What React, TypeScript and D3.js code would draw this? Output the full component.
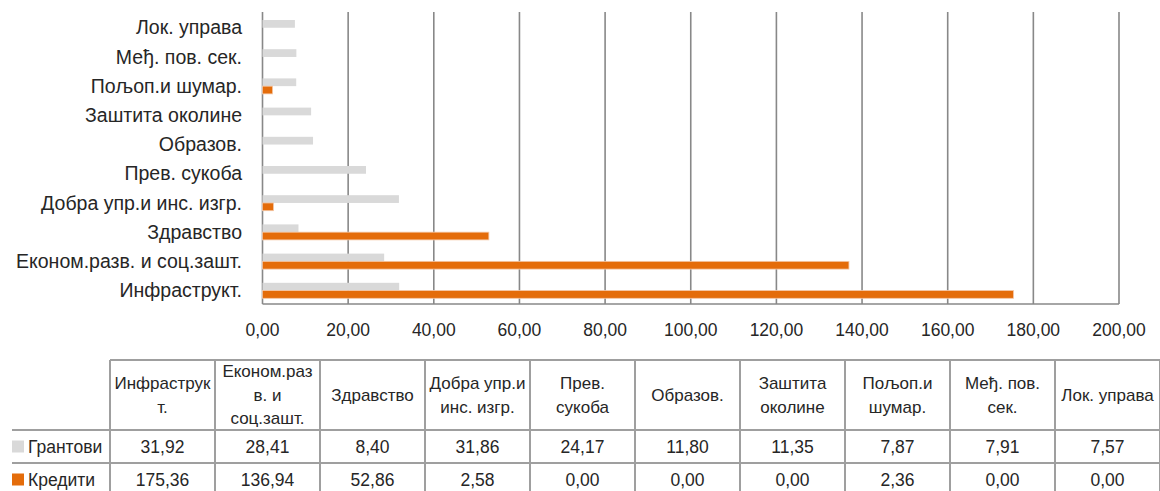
import React from 'react';
import * as d3 from 'd3';

// categories in table order (first one is drawn at the bottom of the chart)
const categories = [
  'Инфраструкт.',
  'Економ.разв. и соц.зашт.',
  'Здравство',
  'Добра упр.и инс. изгр.',
  'Прев. сукоба',
  'Образов.',
  'Заштита околине',
  'Пољоп.и шумар.',
  'Међ. пов. сек.',
  'Лок. управа',
];

// wrapped header text as it appears in the data table
const headerLines = [
  ['Инфраструк', 'т.'],
  ['Економ.раз', 'в. и', 'соц.зашт.'],
  ['Здравство'],
  ['Добра упр.и', 'инс. изгр.'],
  ['Прев.', 'сукоба'],
  ['Образов.'],
  ['Заштита', 'околине'],
  ['Пољоп.и', 'шумар.'],
  ['Међ. пов.', 'сек.'],
  ['Лок. управа'],
];

const seriesNames = ['Грантови', 'Кредити'];
const grants = [31.92, 28.41, 8.4, 31.86, 24.17, 11.8, 11.35, 7.87, 7.91, 7.57];
const credits = [175.36, 136.94, 52.86, 2.58, 0, 0, 0, 2.36, 0, 0];
const xTicks = [0, 20, 40, 60, 80, 100, 120, 140, 160, 180, 200];

const colors = ['#d9d9d9', '#e46c0a'];
const gridColor = '#888888';
const tableColor = '#9f9f9f';
const font = '"Liberation Sans", Arial, sans-serif';

const W = 1160;
const H = 491;

const locale = d3.formatLocale({ decimal: ',', thousands: '.', grouping: [3], currency: ['', ''] });
const fmt = locale.format('.2f');

export default function App() {
  const plot = { left: 262.5, right: 1119, top: 12, bottom: 304 };

  const x = d3.scaleLinear().domain([0, 200]).range([plot.left, plot.right]);
  const y = d3.scaleBand<string>().domain(categories).range([plot.bottom, plot.top]);
  const bw = y.bandwidth();
  const sub = d3.scaleBand<number>().domain([0, 1]).range([8, 23.5]);

  const series = [grants, credits];

  // table geometry
  const cols = d3.scaleBand<string>().domain(categories).range([110, 1160]);
  const tTop = 360;
  const rowLines = [430, 463, 496];

  return (
    <svg width={W} height={H} style={{ position: 'absolute', left: 0, top: 0, background: '#fff' }} fontFamily={font}>
      {/* grid */}
      {xTicks.map(t => (
        <line key={'g' + t} x1={x(t)} x2={x(t)} y1={plot.top} y2={plot.bottom} stroke={gridColor} strokeWidth={1.6} />
      ))}
      <line x1={plot.left} x2={plot.right} y1={plot.bottom} y2={plot.bottom} stroke={gridColor} strokeWidth={1.6} />

      {/* bars */}
      {series.map((vals, si) =>
        categories.map((c, i) => (
          vals[i] > 0 ? (
            <rect
              key={si + '-' + c}
              x={x(0)}
              y={(y(c) as number) + (sub(si) as number)}
              width={x(vals[i]) - x(0)}
              height={sub.bandwidth()}
              fill={colors[si]}
              stroke={si === 1 ? '#f4c8a8' : 'none'}
              strokeWidth={si === 1 ? 0.8 : 0}
            />
          ) : null
        ))
      )}

      {/* category labels */}
      {categories.map(c => (
        <text key={'l' + c} x={242} y={(y(c) as number) + bw / 2 + 1} dy="0.35em" textAnchor="end" fontSize={19.5} fill="#262626">
          {c}
        </text>
      ))}

      {/* x tick labels */}
      {xTicks.map(t => (
        <text key={'t' + t} x={x(t)} y={330} dy="0.35em" textAnchor="middle" fontSize={17.5} fill="#262626">
          {fmt(t)}
        </text>
      ))}

      {/* data table */}
      <line x1={110} x2={W} y1={tTop} y2={tTop} stroke={tableColor} strokeWidth={2} />
      {rowLines.map(r => (
        <line key={'r' + r} x1={12} x2={W} y1={r} y2={r} stroke={tableColor} strokeWidth={2} />
      ))}
      {categories.map(c => (
        <line key={'v' + c} x1={cols(c)} x2={cols(c)} y1={tTop} y2={H} stroke={tableColor} strokeWidth={2} />
      ))}
      <line x1={1160} x2={1160} y1={tTop} y2={H} stroke={tableColor} strokeWidth={2} />

      {categories.map((c, i) => {
        const cx = (cols(c) as number) + cols.bandwidth() / 2;
        const lines = headerLines[i];
        const lh = 23.5;
        const mid = (tTop + rowLines[0]) / 2;
        return (
          <g key={'h' + c}>
            {lines.map((ln, k) => (
              <text key={k} x={cx} y={mid + (k - (lines.length - 1) / 2) * lh} dy="0.35em" textAnchor="middle" fontSize={17} fill="#262626">
                {ln}
              </text>
            ))}
            {series.map((vals, si) => (
              <text key={'v' + si} x={cx} y={(rowLines[si] + rowLines[si + 1]) / 2} dy="0.35em" textAnchor="middle" fontSize={17.5} fill="#262626">
                {fmt(vals[i])}
              </text>
            ))}
          </g>
        );
      })}

      {/* legend keys in the table */}
      {seriesNames.map((s, si) => {
        const cy = (rowLines[si] + rowLines[si + 1]) / 2;
        return (
          <g key={'k' + s}>
            <rect x={12} y={cy - 6} width={12} height={12} fill={colors[si]} />
            <text x={28} y={cy} dy="0.35em" fontSize={17.5} fill="#262626">{s}</text>
          </g>
        );
      })}
    </svg>
  );
}
